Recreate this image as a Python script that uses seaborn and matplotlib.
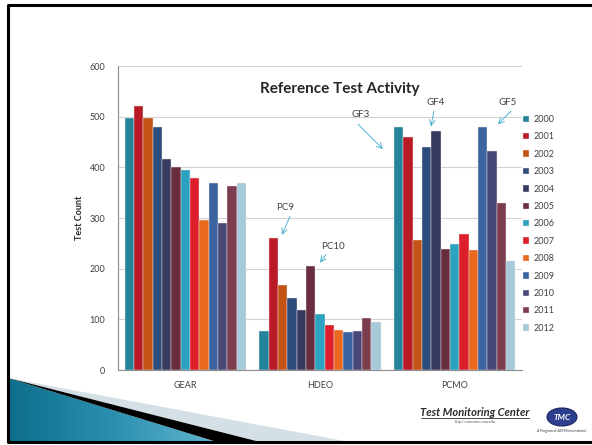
import numpy as np
import pandas as pd
import matplotlib.pyplot as plt
import seaborn as sb
from matplotlib.patches import Polygon, Ellipse
from matplotlib.colors import LinearSegmentedColormap

# values
products = ['GEAR', 'HDEO', 'PCMO']
years = ['2000', '2001', '2002', '2003', '2004', '2005', '2006',
         '2007', '2008', '2009', '2010', '2011', '2012']
gear = [497, 522, 498, 480, 417, 401, 394, 379, 297, 370, 290, 363, 369]
hdeo = [76, 261, 168, 142, 118, 206, 110, 89, 78, 75, 77, 103, 94]
pcmo = [479, 459, 257, 441, 472, 239, 249, 269, 236, 479, 432, 330, 215]
year_colors = ['#23849B', '#B81B25', '#C45316', '#2C4C7C', '#38395F', '#682E3F',
               '#2BA3C0', '#DD1F2C', '#E96A1E', '#3A63A0', '#484878', '#7C3D4F',
               '#A7CADA']

# callouts: label, text position, arrow tail, arrow head (data coords)
callouts = [
    ('PC9', (0.74, 321), (0.777, 303), (0.717, 267)),
    ('PC10', (1.096, 244), (1.044, 228), (1.0, 212)),
    ('GF3', (1.304, 505), (1.282, 485), (1.467, 436)),
    ('GF4', (1.86, 527), (1.846, 511), (1.824, 481)),
    ('GF5', (2.395, 527), (2.418, 511), (2.321, 485)),
]

rows = []
for prod, vals in zip(products, [gear, hdeo, pcmo]):
    for yr, v in zip(years, vals):
        rows.append({'product': prod, 'year': yr, 'count': v})
df = pd.DataFrame(rows)

sb.set_style('white')
plt.rcParams['font.family'] = ['Lato', 'DejaVu Sans']

fig = plt.figure(figsize=(5.92, 4.45), dpi=100)

# slide decoration in pixel coords
bg = fig.add_axes([0, 0, 1, 1], zorder=-1)
bg.set_xlim(0, 592)
bg.set_ylim(445, 0)
bg.axis('off')
bg.plot([8, 8, 592], [442, 5, 5], color='black', lw=2.2, solid_capstyle='butt')
bg.plot([8, 592], [442, 442], color='black', lw=2.2)
gray_wedge = Polygon([(8, 378), (350, 442), (260, 442)], closed=True,
                     facecolor='#D5DFE6', edgecolor='none')
bg.add_patch(gray_wedge)
black_wedge = Polygon([(8, 378), (260, 442), (217, 442)], closed=True,
                      facecolor='black', edgecolor='none')
bg.add_patch(black_wedge)
teal_wedge = Polygon([(8, 378), (8, 442), (217, 442)], closed=True,
                     facecolor='none', edgecolor='none')
bg.add_patch(teal_wedge)
grad_cmap = LinearSegmentedColormap.from_list('slide', ['#0E6E8C', '#2A8FB0', '#62B6CF'])
grad = np.linspace(0, 1, 256).reshape(1, -1)
im = bg.imshow(grad, cmap=grad_cmap, extent=(8, 217, 442, 378), aspect='auto')
im.set_clip_path(teal_wedge)

# logo block
bg.text(475, 412, 'Test Monitoring Center', fontsize=8, fontweight='bold',
        fontstyle='italic', color='#2B2B2B', ha='center', va='center')
bg.plot([421, 529], [417.5, 417.5], color='#2B2B2B', lw=0.6)
bg.text(475, 422, 'http://astmtmc.cmu.edu', fontsize=2.8, color='#555555',
        ha='center', va='center')
bg.add_patch(Ellipse((562, 417), 30, 18, facecolor='#2E3F8F', edgecolor='#1A2560', lw=0.8))
bg.text(562, 417, 'TMC', fontsize=6, fontweight='bold', fontstyle='italic',
        color='white', ha='center', va='center')
bg.text(562, 431, 'A Program of ASTM International', fontsize=2.4, color='#333333',
        ha='center', va='center')

ax = fig.add_axes([118 / 592, 1 - 370 / 445, 404 / 592, 304 / 445])
sb.barplot(data=df, x='product', y='count', hue='year', order=products,
           hue_order=years, palette=year_colors, width=0.9, gap=0,
           edgecolor='#F2E6E6', linewidth=0.3, saturation=1, ax=ax)

ax.set_ylim(0, 600)
ax.set_xlim(-0.5, 2.5)
ax.set_yticks(range(0, 601, 100))
ax.yaxis.grid(True, color='#D4D4D4', lw=0.8)
ax.set_axisbelow(True)
for side in ['top', 'right']:
    ax.spines[side].set_visible(False)
for side in ['left', 'bottom']:
    ax.spines[side].set_color('#8C8C8C')
    ax.spines[side].set_linewidth(0.8)
ax.tick_params(axis='y', direction='out', length=3, width=0.6, color='#8C8C8C',
               labelsize=6.5, labelcolor='#404040', pad=6)
ax.tick_params(axis='x', which='major', length=0, labelsize=6.5,
               labelcolor='#404040', pad=8)
ax.set_xticks([-0.5, 0.5, 1.5, 2.5], minor=True)
ax.tick_params(axis='x', which='minor', direction='out', length=3, width=0.6,
               color='#8C8C8C')
ax.set_xlabel('')
ax.set_ylabel('Test Count', fontsize=6.5, fontweight='bold', labelpad=4)

for label, txt_xy, tail, head in callouts:
    ax.text(txt_xy[0], txt_xy[1], label, fontsize=7, color='#404040',
            ha='center', va='center')
    ax.annotate('', xy=head, xytext=tail,
                arrowprops=dict(arrowstyle='->', color='#3AA9C9', lw=0.6,
                                shrinkA=0, shrinkB=0))

fig.text(340 / 592, 1 - 89 / 445, 'Reference Test Activity', fontsize=11,
         fontweight='bold', ha='center', va='center')

ax.legend(loc='upper left', bbox_to_anchor=(523 / 592, 1 - 115 / 445),
          bbox_transform=fig.transFigure, frameon=False, fontsize=6.5,
          handlelength=0.7, handleheight=0.7, handletextpad=0.5,
          labelspacing=0.93, borderpad=0, borderaxespad=0, labelcolor='#404040')

plt.savefig('out.png', dpi=100)
